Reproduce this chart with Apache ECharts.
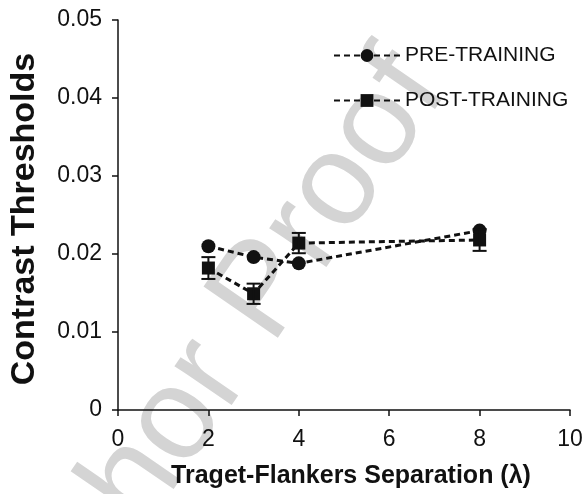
<!DOCTYPE html>
<html>
<head>
<meta charset="utf-8">
<script src="https://cdn.jsdelivr.net/npm/echarts@6/dist/echarts.min.js"></script>
<style>
html,body{margin:0;padding:0;background:#fff;}
#chart{width:587px;height:494px;}
</style>
</head>
<body>
<div id="chart"></div>
<script>
// ---- data ----
var separations = [2, 3, 4, 8];
var preTraining = [0.0210, 0.0196, 0.0188, 0.0230];
var postTraining = [0.0182, 0.0149, 0.0214, 0.0218];
var postError = [0.0014, 0.0013, 0.0013, 0.0014];
var seriesNames = ['PRE-TRAINING', 'POST-TRAINING'];
var xTitle = 'Traget-Flankers Separation (\u03BB)';
var yTitle = 'Contrast Thresholds';
var watermarkText = 'Author Proof';
var xRange = [0, 10, 2];
var yRange = [0, 0.05, 0.01];

var INK = '#111111';
var regular = "'Liberation Sans',Arial,sans-serif";

function pairs(xs, ys) { return xs.map(function (x, i) { return [x, ys[i]]; }); }
var errData = separations.map(function (x, i) {
  return [x, postTraining[i] - postError[i], postTraining[i] + postError[i]];
});

var chart = echarts.init(document.getElementById('chart'));
chart.setOption({
  backgroundColor: '#fff',
  animation: false,
  graphic: [{
    type: 'text',
    z: -10,
    x: 211, y: 371,
    rotation: 55.5 * Math.PI / 180,
    style: {
      text: watermarkText,
      fill: '#d4d4d4',
      font: '131px ' + regular,
      align: 'center',
      verticalAlign: 'middle'
    }
  }],
  grid: { left: 116, right: 17, top: 20, bottom: 81, containLabel: false },
  legend: {
    orient: 'vertical',
    left: 328, top: 40,
    itemWidth: 66, itemHeight: 16, itemGap: 24,
    data: seriesNames,
    textStyle: { fontSize: 21, fontFamily: regular, color: INK }
  },
  xAxis: {
    type: 'value',
    min: xRange[0], max: xRange[1], interval: xRange[2],
    name: xTitle,
    nameLocation: 'middle',
    nameGap: 54,
    nameTextStyle: { fontSize: 25, fontWeight: 'bold', fontFamily: regular, color: INK, padding: [0, 0, 0, 14] },
    axisLine: { show: true, lineStyle: { color: INK, width: 1.5 } },
    axisTick: { show: true, inside: false, length: 6, lineStyle: { color: INK, width: 1.5 } },
    axisLabel: { fontSize: 23, fontFamily: regular, color: INK, margin: 18 },
    splitLine: { show: false }
  },
  yAxis: {
    type: 'value',
    min: yRange[0], max: yRange[1], interval: yRange[2],
    name: yTitle,
    nameLocation: 'middle',
    nameGap: 76,
    nameTextStyle: { fontSize: 34, fontWeight: 'bold', fontFamily: regular, color: INK, padding: [0, 8, 0, 0] },
    axisLine: { show: true, lineStyle: { color: INK, width: 1.5 } },
    axisTick: { show: true, inside: false, length: 6, lineStyle: { color: INK, width: 1.5 } },
    axisLabel: {
      fontSize: 23, fontFamily: regular, color: INK, margin: 16,
      formatter: function (v) { return v === 0 ? '0' : v.toFixed(2); }
    },
    splitLine: { show: false }
  },
  series: [
    {
      name: seriesNames[0],
      type: 'line',
      data: pairs(separations, preTraining),
      symbol: 'circle', symbolSize: 14,
      lineStyle: { color: INK, width: 3, type: [6, 4] },
      itemStyle: { color: INK, borderWidth: 0 },
      z: 3
    },
    {
      name: seriesNames[1],
      type: 'line',
      data: pairs(separations, postTraining),
      symbol: 'rect', symbolSize: 13,
      lineStyle: { color: INK, width: 3, type: [6, 4] },
      itemStyle: { color: INK, borderWidth: 0 },
      z: 3
    },
    {
      name: 'postErr',
      type: 'custom',
      data: errData,
      z: 4,
      silent: true,
      renderItem: function (params, api) {
        var x = api.value(0);
        var lo = api.coord([x, api.value(1)]);
        var hi = api.coord([x, api.value(2)]);
        var hw = 7;
        var st = { stroke: INK, lineWidth: 2 };
        return {
          type: 'group',
          children: [
            { type: 'line', shape: { x1: lo[0], y1: lo[1], x2: hi[0], y2: hi[1] }, style: st },
            { type: 'line', shape: { x1: lo[0] - hw, y1: lo[1], x2: lo[0] + hw, y2: lo[1] }, style: st },
            { type: 'line', shape: { x1: hi[0] - hw, y1: hi[1], x2: hi[0] + hw, y2: hi[1] }, style: st }
          ]
        };
      }
    }
  ]
});
</script>
</body>
</html>
